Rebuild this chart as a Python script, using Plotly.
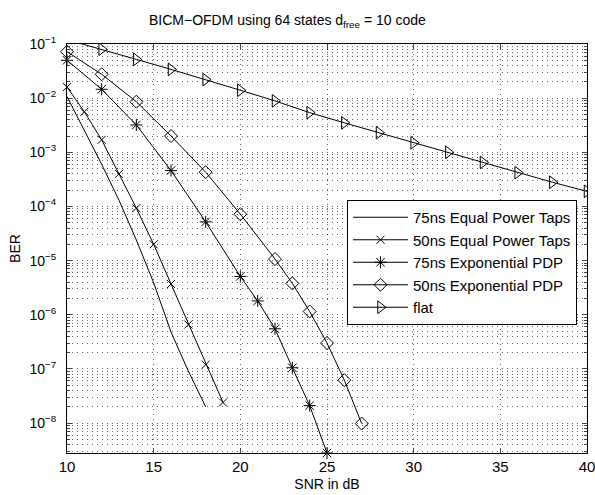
import numpy as np
import plotly.graph_objects as go

# ---- data ----
snr_75_equal = [10, 11, 12, 13, 14, 15, 16, 17, 18]
ber_75_equal = [1.07e-2, 2.6e-3, 6.0e-4, 1.3e-4, 2.4e-5, 3.9e-6, 4.8e-7, 9.1e-8, 2.0e-8]

snr_50_equal = [10, 11, 12, 13, 14, 15, 16, 17, 18, 19]
ber_50_equal = [1.6e-2, 5.6e-3, 1.7e-3, 4.0e-4, 9.3e-5, 2.0e-5, 3.7e-6, 6.6e-7, 1.2e-7, 2.4e-8]

snr_75_exp = [10, 12, 14, 16, 18, 20, 21, 22, 23, 24, 25]
ber_75_exp = [5.0e-2, 1.46e-2, 3.2e-3, 4.6e-4, 5.2e-5, 5.1e-6, 1.8e-6, 5.5e-7, 1.05e-7, 2.1e-8, 2.8e-9]

snr_50_exp = [10, 12, 14, 16, 18, 20, 22, 23, 24, 25, 26, 27]
ber_50_exp = [7.2e-2, 2.76e-2, 8.6e-3, 2.0e-3, 4.3e-4, 7.2e-5, 1.07e-5, 3.8e-6, 1.15e-6, 3.0e-7, 6.2e-8, 9.8e-9]

snr_flat = [10, 12, 14, 16, 18, 20, 22, 24, 26, 28, 30, 32, 34, 36, 38, 40]
ber_flat = [1.2e-1, 8.0e-2, 5.2e-2, 3.4e-2, 2.2e-2, 1.4e-2, 8.9e-3, 5.4e-3, 3.5e-3,
            2.3e-3, 1.5e-3, 1.0e-3, 6.5e-4, 4.2e-4, 2.8e-4, 1.9e-4]

x_ticks = [10, 15, 20, 25, 30, 35, 40]
y_exponents = [-8, -7, -6, -5, -4, -3, -2, -1]

FONT = "Liberation Sans, Arial, Helvetica, sans-serif"
GRID = "rgba(0,0,0,0.6)"
DASH = "1px,4px"

fig = go.Figure()

series = [
    ("75ns Equal Power Taps", snr_75_equal, ber_75_equal, None, 0, False),
    ("50ns Equal Power Taps", snr_50_equal, ber_50_equal, "x-thin-open", 8, False),
    ("75ns Exponential PDP", snr_75_exp, ber_75_exp, "asterisk-open", 10, False),
    ("50ns Exponential PDP", snr_50_exp, ber_50_exp, "diamond-open", 10, False),
    ("flat", snr_flat, ber_flat, "triangle-right-open", 11, True),
]
for name, xs, ys, sym, size, clip in series:
    if sym is None:
        fig.add_trace(go.Scatter(x=xs, y=ys, name=name, mode="lines",
                                 line=dict(color="black", width=1)))
    else:
        fig.add_trace(go.Scatter(x=xs, y=ys, name=name, mode="lines+markers",
                                 cliponaxis=clip,
                                 line=dict(color="black", width=1),
                                 marker=dict(symbol=sym, size=size, color="black",
                                             line=dict(color="black", width=1))))

minor_vals = [m * 10.0 ** e for e in range(-9, -1) for m in range(2, 10)]

fig.update_layout(
    width=595, height=495,
    margin=dict(l=67, r=8, t=44, b=42, autoexpand=False),
    paper_bgcolor="white", plot_bgcolor="white",
    font=dict(family=FONT, size=14, color="black"),
    title=dict(text="BICM\u2212OFDM using 64 states d<sub>free</sub> = 10 code",
               x=0.483, xanchor="center", xref="container",
               y=1 - 20.5 / 495, yanchor="middle",
               yref="container", font=dict(size=14, family=FONT, color="black")),
    showlegend=True,
    legend=dict(x=(347 - 67) / 520, y=(453 - 200) / 409, xanchor="left", yanchor="top",
                bgcolor="white", bordercolor="black", borderwidth=1,
                font=dict(size=15, family=FONT, color="black"),
                itemwidth=55, tracegroupgap=0),
    xaxis=dict(range=[10, 40], tickvals=x_ticks, ticks="inside", ticklen=5,
               automargin=False, ticklabeloverflow="allow",
               showline=True, linecolor="black", linewidth=1, mirror="ticks",
               showgrid=True, gridcolor=GRID, gridwidth=1, griddash=DASH,
               zeroline=False, tickfont=dict(size=15), ticklabelstandoff=0,
               title=dict(text="SNR in dB", standoff=5, font=dict(size=14))),
    yaxis=dict(type="log", range=[-8.553, -1],
               tickvals=[10.0 ** e for e in y_exponents],
               ticktext=["10<sup>\u2212%d</sup>" % (-e) for e in y_exponents],
               ticks="inside", ticklen=5, automargin=False, ticklabeloverflow="allow",
               showline=True, linecolor="black", linewidth=1, mirror="ticks",
               showgrid=True, gridcolor=GRID, gridwidth=1, griddash=DASH,
               zeroline=False, tickfont=dict(size=14), ticklabelstandoff=7,
               minor=dict(tickvals=minor_vals, ticks="inside", ticklen=3,
                          showgrid=True, gridcolor=GRID, gridwidth=1, griddash=DASH),
               title=dict(text="BER", standoff=5, font=dict(size=14))),
)

fig.write_html("out.html", config={"displayModeBar": False},
               post_script="document.body.style.margin='0';")
